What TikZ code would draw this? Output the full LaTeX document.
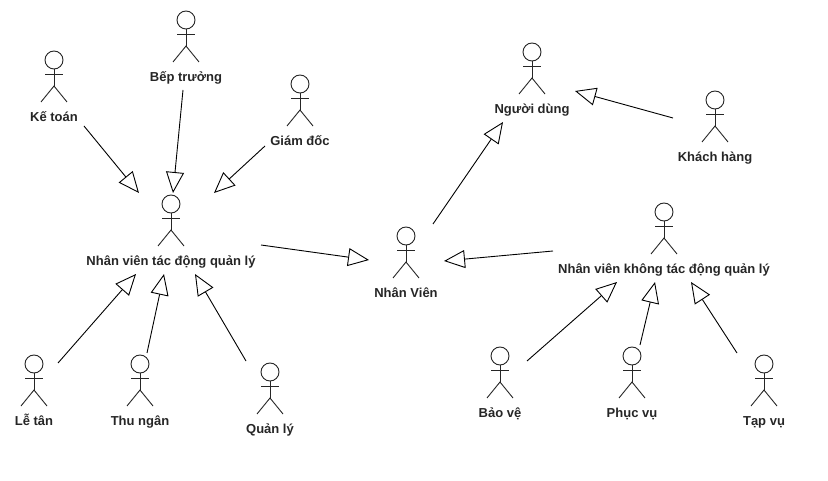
\documentclass[tikz,border=0pt]{standalone}
\usepackage{fontspec}
\setmainfont{Liberation Sans}
\usetikzlibrary{arrows.meta}
\tikzset{
	actorlabel/.style={font=\bfseries\fontsize{13}{15}\selectfont, text=black!85, inner sep=0pt, anchor=base},
	actorline/.style={line width=0.9pt, black!85},
	inherit/.style={line width=0.9pt, -{Triangle[open, length=21pt, width=18pt, fill=white]}}
}
% (name)(head x, head y)(label)
\def\actor(#1)(#2,#3)(#4){
	\draw[actorline] (#2, #3) circle (9);
	\draw[actorline] (#2, #3+9) -- (#2, #3+26);
	\draw[actorline] (#2-9, #3+14.5) -- (#2+9, #3+14.5);
	\draw[actorline] (#2-13, #3+42) -- (#2, #3+26) -- (#2+13, #3+42);
	\node[actorlabel] (#1) at (#2, #3+61.8) {#4};
}

\begin{document}
\begin{tikzpicture}[x=1pt, y=-1pt]
	%%%%% START %%%%%
	\useasboundingbox (0, 0) rectangle (828, 481);
	
	\actor(ketoan)(54, 60)(Kế toán)
	\actor(beptruong)(186, 20)(Bếp trưởng)
	\actor(giamdoc)(300, 84)(Giám đốc)
	\actor(nvtacdong)(171, 204)(Nhân viên tác động quản lý)
	\actor(letan)(34, 364)(Lễ tân)
	\actor(thungan)(140, 364)(Thu ngân)
	\actor(quanly)(270, 372)(Quản lý)
	
	\actor(nhanvien)(406, 236)(Nhân Viên)
	\actor(nguoidung)(532, 52)(Người dùng)
	\actor(khachhang)(715, 100)(Khách hàng)
	\actor(nvkhong)(664, 212)(Nhân viên không tác động quản lý)
	\actor(baove)(500, 356)(Bảo vệ)
	\actor(phucvu)(632, 356)(Phục vụ)
	\actor(tapvu)(764, 364)(Tạp vụ)
	
	\coordinate (ketoanA) at (84, 126);
	\coordinate (ketoanB) at (139, 193);
	\coordinate (beptruongA) at (183, 90);
	\coordinate (beptruongB) at (173, 193);
	\coordinate (giamdocA) at (265, 146);
	\coordinate (giamdocB) at (214, 193);
	\coordinate (letanA) at (58, 363);
	\coordinate (letanB) at (136, 274);
	\coordinate (thunganA) at (147, 353);
	\coordinate (thunganB) at (164, 274);
	\coordinate (quanlyA) at (246, 361);
	\coordinate (quanlyB) at (195, 274);
	\coordinate (nvtacdongA) at (261, 245);
	\coordinate (nhanvienB) at (369, 260);
	\coordinate (nhanvienA) at (433, 224);
	\coordinate (nguoidungB) at (503, 122);
	\coordinate (khachhangA) at (673, 118);
	\coordinate (nguoidungC) at (575, 91);
	\coordinate (nvkhongA) at (553, 251);
	\coordinate (nhanvienC) at (444, 261);
	\coordinate (baoveA) at (527, 361);
	\coordinate (baoveB) at (617, 282);
	\coordinate (phucvuA) at (640, 345);
	\coordinate (phucvuB) at (655, 282);
	\coordinate (tapvuA) at (737, 353);
	\coordinate (tapvuB) at (691, 282);
	
	\draw[inherit] (ketoanA) -- (ketoanB);
	\draw[inherit] (beptruongA) -- (beptruongB);
	\draw[inherit] (giamdocA) -- (giamdocB);
	\draw[inherit] (letanA) -- (letanB);
	\draw[inherit] (thunganA) -- (thunganB);
	\draw[inherit] (quanlyA) -- (quanlyB);
	\draw[inherit] (nvtacdongA) -- (nhanvienB);
	\draw[inherit] (nhanvienA) -- (nguoidungB);
	\draw[inherit] (khachhangA) -- (nguoidungC);
	\draw[inherit] (nvkhongA) -- (nhanvienC);
	\draw[inherit] (baoveA) -- (baoveB);
	\draw[inherit] (phucvuA) -- (phucvuB);
	\draw[inherit] (tapvuA) -- (tapvuB);
	%%%%% END %%%%%
\end{tikzpicture}
\end{document}
